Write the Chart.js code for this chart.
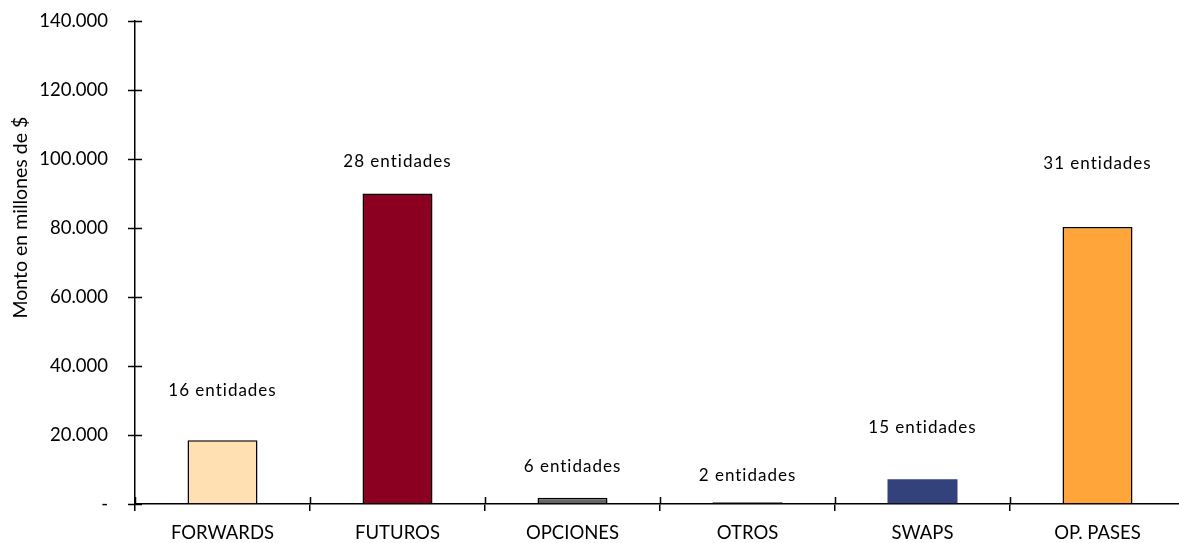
<!DOCTYPE html>
<html>
<head>
<meta charset="utf-8">
<script src="https://cdn.jsdelivr.net/npm/chart.js@4.4.1/dist/chart.umd.min.js"></script>
<style>
  html, body { margin: 0; padding: 0; background: #fff; overflow: hidden; }
  #wrap { width: 1190px; height: 543px; }
</style>
</head>
<body>
<div id="wrap"><canvas id="chart"></canvas></div>
<script>
// categories and amounts (millones de $)
const categories = ['FORWARDS', 'FUTUROS', 'OPCIONES', 'OTROS', 'SWAPS', 'OP. PASES'];
const montos = [18500, 90000, 1800, 500, 7200, 80300];
// number of entities per instrument, and the height (in $) where each note sits
const entidades = ['16 entidades', '28 entidades', '6 entidades', '2 entidades', '15 entidades', '31 entidades'];
const notaAltura = [33000, 99400, 11000, 8400, 22300, 98800];
const yTicks = [0, 20000, 40000, 60000, 80000, 100000, 120000, 140000];
const yTitle = 'Monto en millones de $';

const barColors = ['#FFE0B3', '#8B0020', '#666666', '#1a1a1a', '#33427A', '#FFA53A'];
const borderWidths = [1.5, 1.5, 1.5, 1.5, 0, 1.5];

const FONT = 'Lato, "Open Sans", sans-serif';

// y ticks in the original cross the axis line; the chart.js ones are hidden
// (tickColor transparent) and drawn here on both sides
const crossTicks = {
  id: 'crossTicks',
  afterDraw(chart) {
    const ctx = chart.ctx;
    const y = chart.scales.y;
    const a = chart.chartArea;
    ctx.save();
    ctx.strokeStyle = '#000';
    ctx.lineWidth = 1.5;
    ctx.beginPath();
    yTicks.forEach(v => {
      const py = Math.round(y.getPixelForValue(v)) + 0.5;
      ctx.moveTo(a.left - 7, py);
      ctx.lineTo(a.left + 7, py);
    });
    for (let i = 0; i <= categories.length; i++) {
      const px = Math.round(a.left + (a.right - a.left) * i / categories.length) + 0.5;
      ctx.moveTo(px, a.bottom);
      ctx.lineTo(px, a.bottom - 7);
    }
    ctx.stroke();
    ctx.restore();
  }
};

// "N entidades" notes above each bar + axis title (sits above the middle in the original)
const notas = {
  id: 'notas',
  afterDatasetsDraw(chart) {
    const ctx = chart.ctx;
    const {x, y} = chart.scales;
    ctx.save();
    ctx.font = '17px ' + FONT;
    ctx.fillStyle = '#000';
    ctx.textAlign = 'center';
    ctx.textBaseline = 'middle';
    if ('letterSpacing' in ctx) ctx.letterSpacing = '1px';
    entidades.forEach((t, i) => {
      ctx.fillText(t, x.getPixelForValue(i), y.getPixelForValue(notaAltura[i]));
    });
    ctx.restore();

    ctx.save();
    ctx.font = '19.5px ' + FONT;
    ctx.fillStyle = '#000';
    ctx.textAlign = 'center';
    ctx.textBaseline = 'middle';
    ctx.translate(21, y.getPixelForValue(83000));
    ctx.rotate(-Math.PI / 2);
    ctx.fillText(yTitle, 0, 0);
    ctx.restore();
  }
};

new Chart(document.getElementById('chart'), {
  type: 'bar',
  data: {
    labels: categories,
    datasets: [{
      data: montos,
      backgroundColor: barColors,
      borderColor: '#000',
      borderWidth: borderWidths,
      categoryPercentage: 1,
      barPercentage: 0.4
    }]
  },
  options: {
    animation: false,
    responsive: true,
    maintainAspectRatio: false,
    layout: { padding: { top: 21, right: 5, left: 0, bottom: 0 } },
    plugins: {
      legend: { display: false },
      tooltip: { enabled: false }
    },
    scales: {
      x: {
        grid: { display: true, drawOnChartArea: false, drawTicks: true, tickLength: 7, color: '#000', lineWidth: 1.5 },
        border: { display: true, color: '#000', width: 1.5 },
        ticks: { color: '#000', font: { family: FONT, size: 18.5 }, padding: 11, maxRotation: 0 },
        afterFit(scale) { scale.height = 39; }
      },
      y: {
        min: 0,
        max: 140000,
        grid: { display: true, drawOnChartArea: false, drawTicks: true, tickLength: 27, tickColor: 'rgba(0,0,0,0)', color: '#000', lineWidth: 1.5 },
        border: { display: true, color: '#000', width: 1.5 },
        ticks: {
          stepSize: 20000,
          color: '#000',
          padding: 0,
          font: { family: FONT, size: 18.5 },
          callback: v => v === 0 ? '-' : v.toLocaleString('de-DE')
        },
        afterFit(scale) { scale.width = 135; }
      }
    }
  },
  plugins: [crossTicks, notas]
});
</script>
</body>
</html>
